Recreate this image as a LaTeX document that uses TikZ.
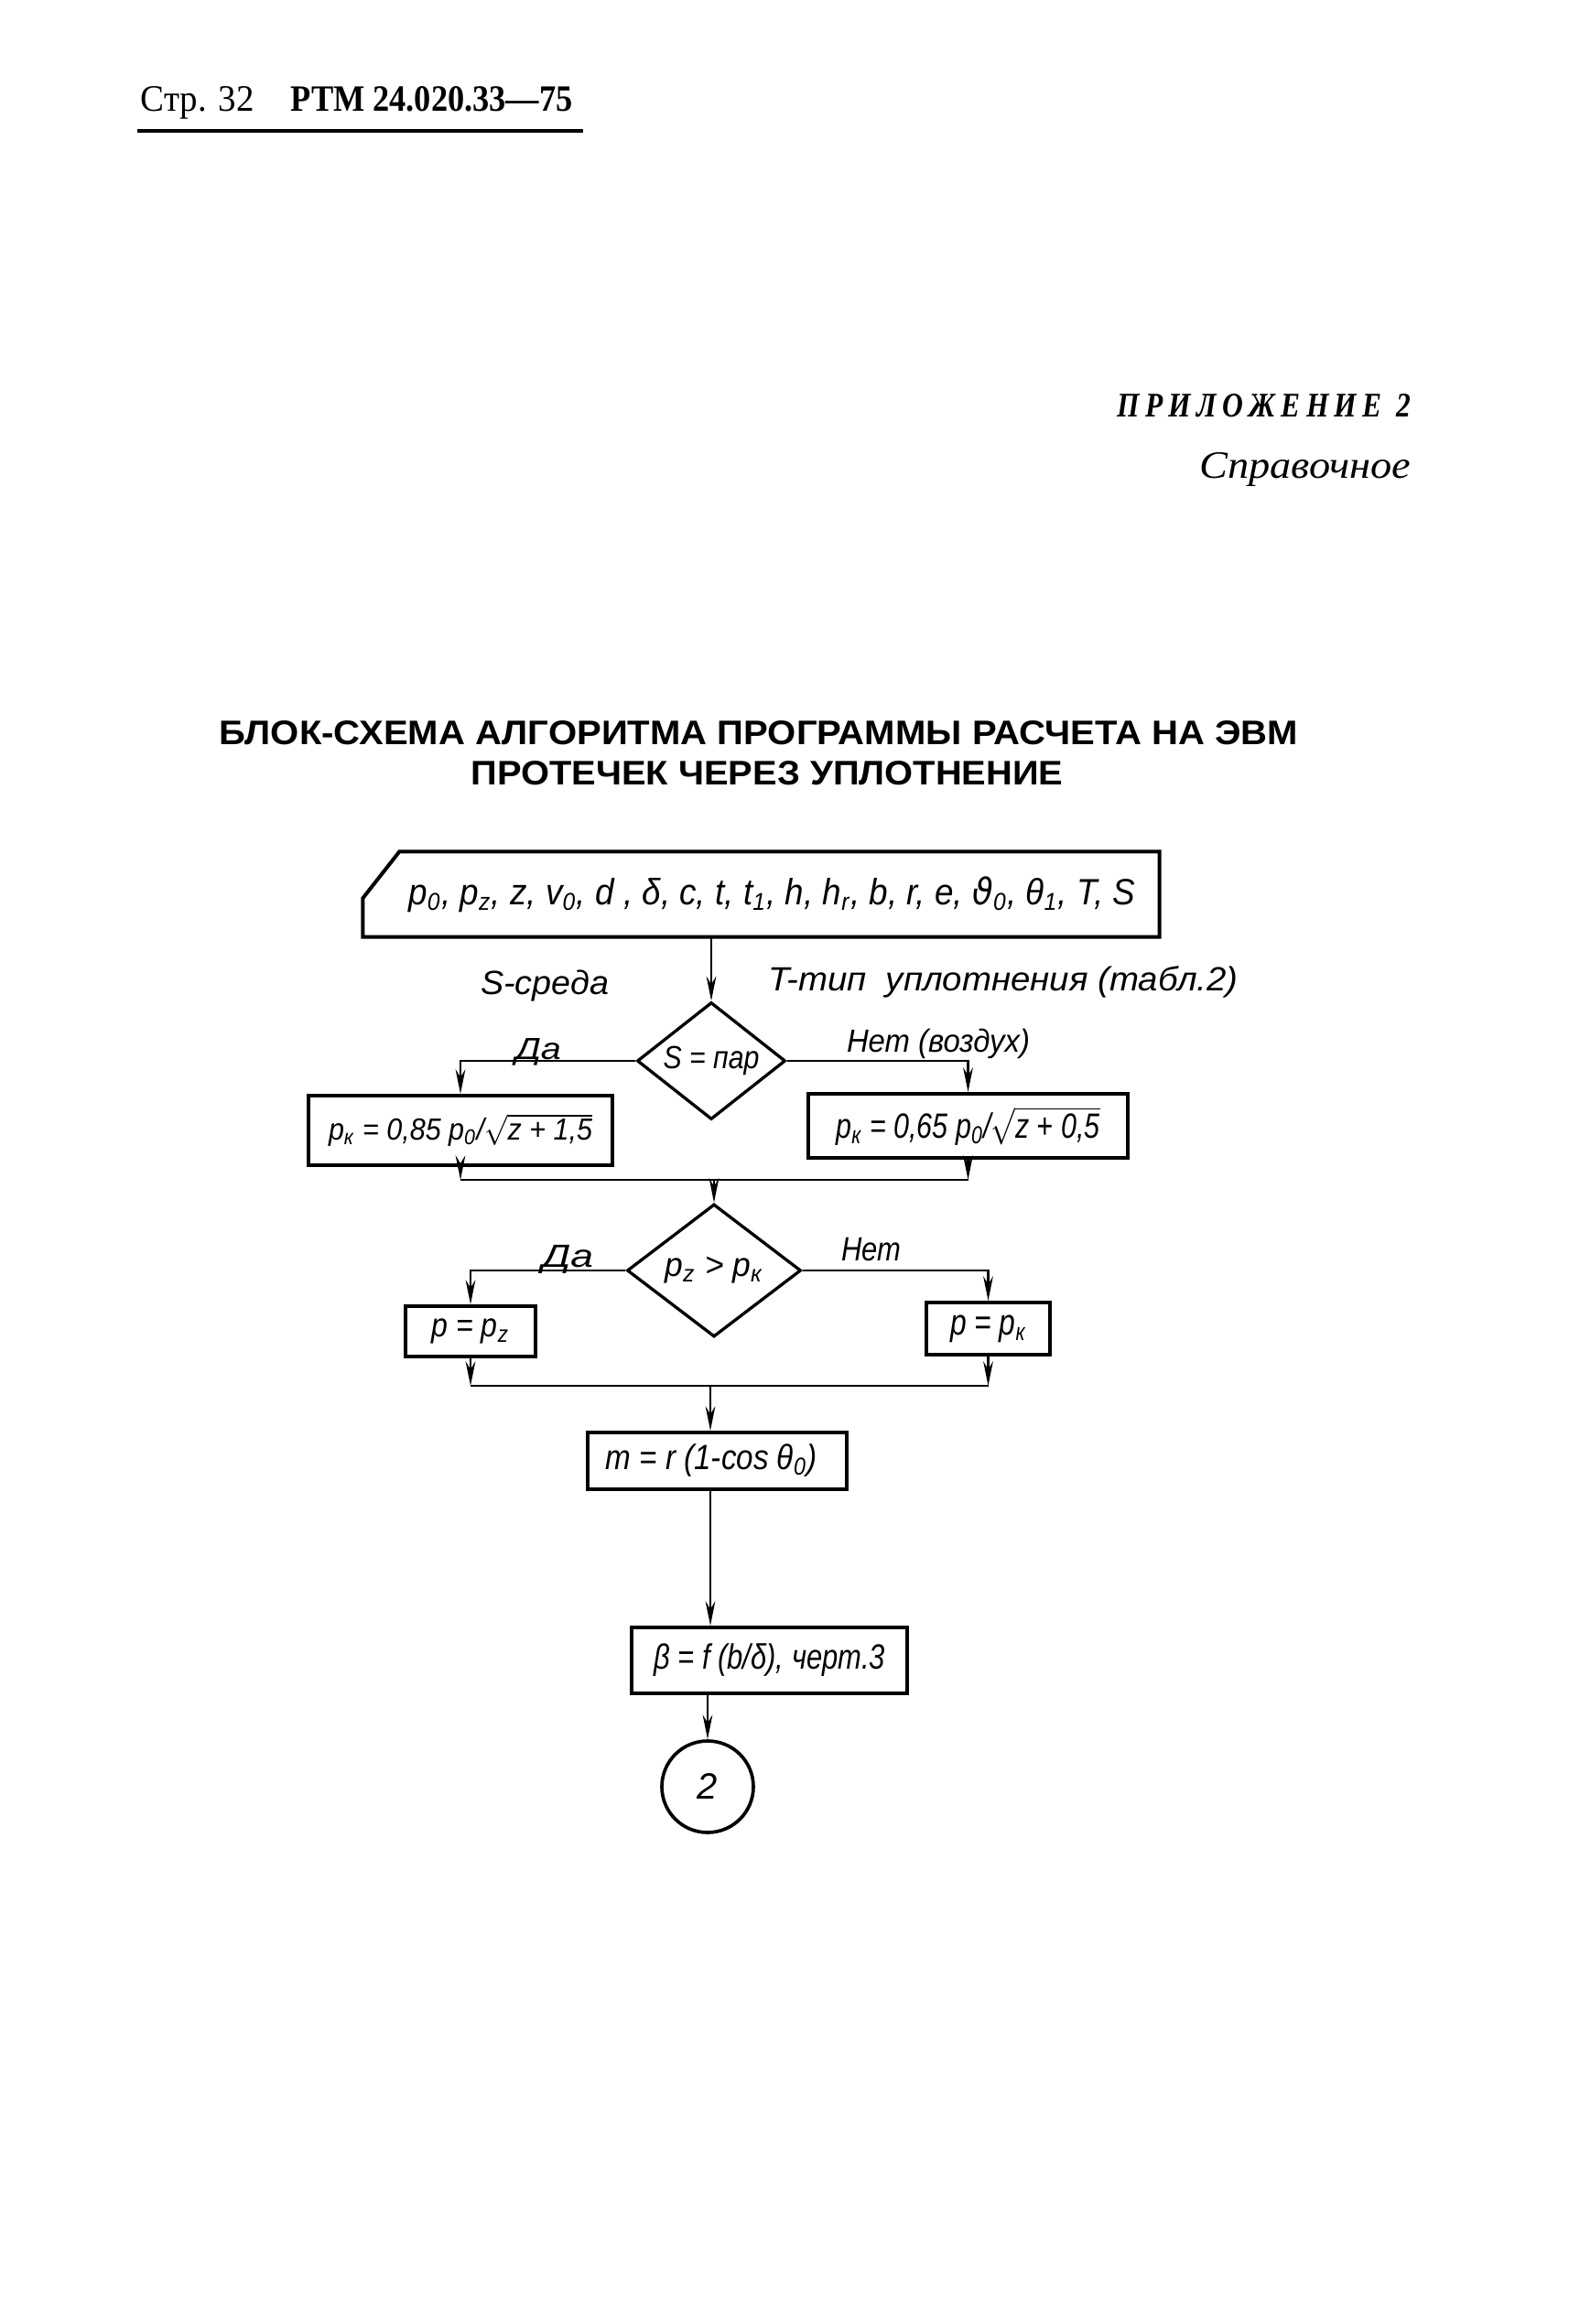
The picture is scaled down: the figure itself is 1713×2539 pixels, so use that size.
\documentclass[tikz,border=0pt]{standalone}
\usepackage{fontspec}
\usepackage{graphicx}
\setmainfont{Liberation Serif}
\newfontfamily\hwf{Liberation Sans}
\newfontfamily\dvs{DejaVu Sans}
\usetikzlibrary{shapes.geometric,arrows.meta,calc}
\newlength\pxu \setlength\pxu{0.3pt}
\newcommand\fw[2]{\resizebox{#1\pxu}{\height}{#2}}
\newcommand\fwh[3]{\resizebox{#1\pxu}{#2\pxu}{#3}}
\newcommand\fl[1]{\hwf\itshape\fontsize{#1}{#1}\selectfont}
\newcommand\sub[1]{\textsubscript{#1}}
\begin{document}
\begin{tikzpicture}[x=0.3pt,y=-0.3pt,
  box/.style={draw, line width=1.2pt, inner sep=0pt},
  dia/.style={diamond, draw, line width=1pt, inner sep=0pt},
  arr/.style={line width=0.8pt, -{Stealth[length=8pt,width=3.2pt]}},
  conn/.style={line width=0.8pt},
  lbl/.style={inner sep=0pt}]
\useasboundingbox (0,0) rectangle (1713,2539);
\fill[white] (0,0) rectangle (1713,2539);

% header
\node[anchor=base west, inner sep=0, font=\fontsize{12}{14}\selectfont] (hdr1) at (153,122) {\fwh{124}{27}{Стр. 32}};
\node[anchor=base west, inner sep=0, font=\fontsize{12}{14}\selectfont\bfseries] (hdr2) at (317,122) {\fwh{308}{27}{РТМ 24.020.33—75}};
\draw[line width=1.3pt] (150,143) -- (637,143);

\node[anchor=base east, inner sep=0, font=\fontsize{11}{13}\selectfont\bfseries\itshape] (app) at (1542,456)
  {\fwh{321}{25}{П\kern.2em Р\kern.2em И\kern.2em Л\kern.2em О\kern.2em Ж\kern.2em Е\kern.2em Н\kern.2em И\kern.2em Е\kern.5em 2}};
\node[anchor=base east, inner sep=0, font=\fontsize{14}{16}\selectfont\itshape] (spr) at (1542,522) {\fwh{231}{28}{Справочное}};

% title
\node[anchor=base, inner sep=0, font=\hwf\bfseries\fontsize{12}{14}\selectfont] (t1) at (829,813)
  {\fwh{1178}{26}{БЛОК-СХЕМА АЛГОРИТМА ПРОГРАММЫ РАСЧЕТА НА ЭВМ}};
\node[anchor=base, inner sep=0, font=\hwf\bfseries\fontsize{12}{14}\selectfont] (t2) at (838,857)
  {\fwh{647}{26}{ПРОТЕЧЕК ЧЕРЕЗ УПЛОТНЕНИЕ}};

% input block
\node[inner sep=0pt, minimum width=869\pxu, minimum height=92\pxu, font=\fl{12}] (in) at (831.5,977)
  {\hspace*{24\pxu}\fw{794}{p\sub{0}, p\sub{z}, z, v\sub{0}, d , δ, c, t, t\sub{1}, h, h\sub{r}, b, r, e, {\dvs\itshape ϑ}\sub{0}, θ\sub{1}, T, S}};
\draw[line width=1.2pt] ($(in.north west)+(40,0)$) -- (in.north east) -- (in.south east) -- (in.south west) -- ($(in.north west)+(0,51)$) -- cycle;

\node[lbl, font=\fl{11}] (sl) at (595,1077) {\fw{140}{S-среда}};
\node[lbl, font=\fl{11}] (tl) at (1096,1073) {\fw{513}{T-тип\ \ уплотнения (табл.2)}};

% decision 1
\node[dia, minimum width=162\pxu, minimum height=128\pxu, shape aspect=1.27, font=\fl{10.5}] (d1) at (777,1159) {\fw{105}{S = пар}};
\draw[arr] (in.south -| d1.north) -- (d1.north);
\node[lbl, anchor=base, font=\fl{10}] (da1) at (588,1157) {\fw{50}{Да}};
\node[lbl, anchor=base, font=\fl{10.5}] (net1) at (1025,1149) {\fw{200}{Нет (воздух)}};

\node[box, minimum width=332\pxu, minimum height=76\pxu, font=\fl{10}] (b1) at (503,1235)
  {\fw{288}{p\sub{к} = 0,85 p\sub{0}/$\sqrt{\hbox{z + 1,5}}$}};
\node[box, minimum width=349\pxu, minimum height=70\pxu, font=\fl{11.5}] (b2) at (1057.5,1230)
  {\fw{288}{p\sub{к} = 0,65 p\sub{0}/$\sqrt{\hbox{z + 0,5}}$}};
\draw[arr] (d1.west) -| (b1.north);
\draw[arr] (d1.east) -| (b2.north);

\coordinate (m1) at (780,1289);
\draw[arr] (b1.south) -- (b1.south |- m1);
\draw[arr] (b2.south) -- (b2.south |- m1);
\draw[conn] (b1.south |- m1) -- (b2.south |- m1);

% decision 2
\node[dia, minimum width=190\pxu, minimum height=145\pxu, shape aspect=1.31, font=\fl{11}] (d2) at (780,1388)
  {\fw{107}{p\sub{z} > p\sub{к}}};
\draw[arr] (m1) -- (d2.north);
\node[lbl, anchor=base, font=\fl{10.5}] (da2) at (620,1384) {\fw{56}{Да}};
\node[lbl, anchor=base, font=\fl{11}] (net2) at (952,1377) {\fw{65}{Нет}};

\node[box, minimum width=142\pxu, minimum height=55\pxu, font=\fl{11}] (b3) at (514,1454.5) {\fw{85}{p = p\sub{z}}};
\node[box, minimum width=135\pxu, minimum height=57\pxu, font=\fl{12}] (b4) at (1079.5,1451.5) {\fw{83}{p = p\sub{к}}};
\draw[arr] (d2.west) -| (b3.north);
\draw[arr] (d2.east) -| (b4.north);

\coordinate (m2) at (776,1514);
\draw[arr] (b3.south) -- (b3.south |- m2);
\draw[arr] (b4.south) -- (b4.south |- m2);
\draw[conn] (b3.south |- m2) -- (b4.south |- m2);

% process blocks
\node[box, minimum width=283\pxu, minimum height=62\pxu, font=\fl{11.5}] (b5) at (783.5,1596)
  {\fw{231}{m = r (1-cos θ\sub{0})}\hspace*{13\pxu}};
\draw[arr] (m2) -- (m2 |- b5.north);

\node[box, minimum width=301\pxu, minimum height=72\pxu, font=\fl{11.5}] (b6) at (840.5,1814)
  {\fw{253}{β = f (b/δ), черт.3}};
\draw[arr] (b5.south -| m2) -- (b6.north -| m2);

\node[circle, draw, line width=1.1pt, minimum size=100\pxu, inner sep=0pt, font=\fl{12}] (c2) at (773,1952) {2};
\draw[arr] (b6.south -| c2.north) -- (c2.north);
\end{tikzpicture}
\end{document}
